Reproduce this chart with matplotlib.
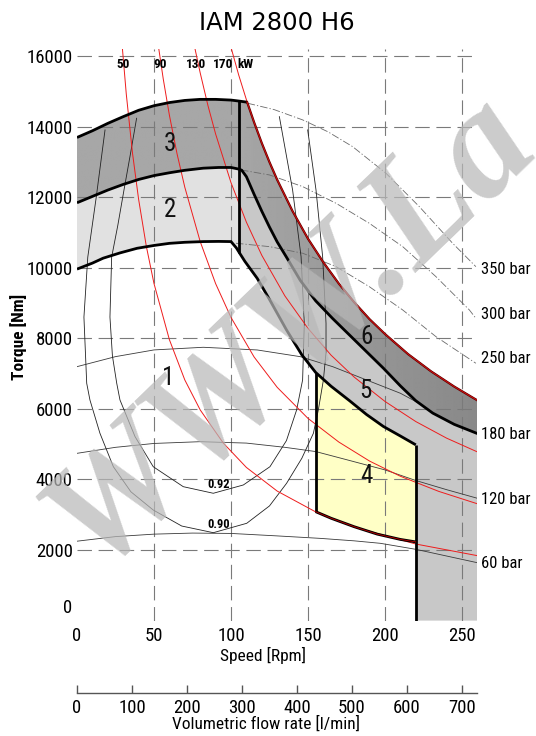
import numpy as np
import matplotlib
matplotlib.use("Agg")
import matplotlib.pyplot as plt
from matplotlib import font_manager as fm
from matplotlib.patches import Polygon

# ---------------- data ----------------
title = "IAM 2800 H6"
speed_ticks = [0, 50, 100, 150, 200, 250]
torque_ticks = [2000, 4000, 6000, 8000, 10000, 12000, 14000, 16000]
flow_ticks = [0, 100, 200, 300, 400, 500, 600, 700]
flow_per_rev = 2.8          # l/rev  (700 l/min at 250 rpm)

# constant power lines (kW)
power_labels = ["50", "90", "130", "170"]
power_label_rpm = [30, 54, 77, 95]
p50_rpm = [29, 32, 36, 40, 45, 50, 60, 70, 80, 95, 110, 130, 155, 180, 220, 260]
p50_T = [16460, 14920, 13260, 11940, 10610, 9550, 7960, 6820, 5970, 5030, 4340, 3670, 3080, 2650, 2170, 1840]
p90_rpm = [52, 56, 60, 65, 70, 80, 90, 100, 115, 130, 150, 170, 190, 210, 235, 260]
p90_T = [16530, 15350, 14320, 13220, 12280, 10740, 9550, 8590, 7470, 6610, 5730, 5060, 4520, 4090, 3660, 3310]
p130_rpm = [76, 80, 85, 90, 100, 110, 120, 135, 150, 165, 180, 200, 220, 240, 260]
p130_T = [16330, 15520, 14600, 13790, 12410, 11290, 10350, 9200, 8280, 7520, 6900, 6210, 5640, 5170, 4780]
p170_rpm = [99, 105, 110.5, 115, 120, 125, 130, 140, 150, 160, 170, 180, 190, 200, 215, 230, 245, 260]
p170_T = [16400, 15460, 14690, 14120, 13530, 12990, 12490, 11600, 10820, 10150, 9550, 9020, 8540, 8120, 7550, 7060, 6630, 6240]

# envelope: maximum torque (top of zone 3)
top_rpm = [0, 10, 20, 30, 40, 50, 60, 70, 80, 90, 100, 105.5, 110.5]
top_T = [13690, 13880, 14090, 14280, 14460, 14590, 14680, 14740, 14770, 14770, 14750, 14720, 14690]
# border 3/2 and 6/5
b2_rpm = [0, 10, 20, 30, 40, 50, 60, 70, 82, 92, 100, 105.5, 107, 110, 115, 120, 125, 130, 136, 145,
          155, 166, 177, 188, 199, 210, 220, 231, 245, 260]
b2_T = [11840, 12020, 12200, 12360, 12500, 12610, 12690, 12760, 12820, 12840, 12840, 12790, 12760, 12580,
        12080, 11600, 11150, 10730, 10300, 9640, 9060, 8560, 8090, 7620, 7150, 6650, 6230, 5880, 5560, 5300]
# border 2/1, 5/1 and top of zone 4
b1_rpm = [0, 10, 17, 28, 39, 50, 60, 70, 82, 92, 100, 103.5, 105.5, 109, 117, 125, 136, 146, 155,
          165, 177, 188, 199, 210, 220]
b1_T = [9960, 10130, 10270, 10420, 10550, 10630, 10690, 10720, 10740, 10745, 10740, 10560, 10420, 10180,
        9700, 9100, 8240, 7530, 7030, 6640, 6230, 5840, 5500, 5230, 4980]
# bottom of zone 4
z4_rpm = [155, 165, 180, 195, 210, 220]
z4_T = [3086, 2900, 2660, 2450, 2300, 2230]
n_corner = 105.5
n_z4_left = 155
n_max = 220

# pressure lines
bar_labels = ["350 bar", "300 bar", "250 bar", "180 bar", "120 bar", "60 bar"]
bar_label_T = [9960, 8660, 7430, 5260, 3440, 1620]
p60_rpm = [0, 25, 50, 75, 100, 130, 158, 180, 197, 220, 240, 260]
p60_T = [2250, 2380, 2450, 2480, 2470, 2400, 2330, 2260, 2190, 2020, 1830, 1640]
p120_rpm = [0, 25, 50, 80, 110, 135, 155, 175, 200, 220, 240, 260]
p120_T = [4740, 4910, 5020, 5070, 5030, 4910, 4790, 4560, 4270, 3970, 3710, 3466]
p180_rpm = [0, 25, 50, 82, 117, 145, 166, 188, 210, 222]
p180_T = [7196, 7480, 7670, 7745, 7669, 7479, 7196, 6819, 6442, 6160]
p250_rpm = [103.2, 125, 146.6, 168.2, 189.8, 211.5, 233.1, 259]
p250_T = [10693, 10597, 10409, 10030, 9463, 8802, 8046, 7292]
p300_rpm = [106.5, 125, 146.6, 168.2, 189.8, 211.5, 233.1, 254.8, 259]
p300_T = [12770, 12628, 12297, 11826, 11259, 10597, 9746, 8802, 8566]
p350_rpm = [110.8, 128, 146.6, 163, 179, 200.6, 222.3, 243.9, 259]
p350_T = [14660, 14480, 14187, 13850, 13430, 12677, 11730, 10693, 10030]

# efficiency contours
e92_rpm = [38.7, 34.6, 30.5, 26.5, 22.5, 21.4, 23, 25.8, 27.9, 37.7, 49.5, 69, 88.5, 108, 125.3,
           136, 142.6, 146.5, 147.6, 145.5, 140, 131.4]
e92_T = [14235, 13200, 12200, 11200, 10300, 8600, 7500, 6725, 6252, 5212, 4361, 3795, 3608, 3843, 4361,
         5100, 5968, 6819, 8425, 10313, 12203, 14281]
e90_rpm = [18.2, 12.5, 7, 4.5, 6.3, 8.4, 14.9, 23.6, 35, 49.5, 68, 88.5, 110.2, 125, 136.1, 146,
           153.5, 156.7, 160, 161.7, 161.7, 159.5, 155.2, 149.8]
e90_T = [13904, 12000, 10300, 8600, 6725, 6252, 5308, 4361, 3650, 3134, 2680, 2491, 2757, 3250, 3891, 4600,
         5308, 5968, 6819, 7600, 8425, 10313, 12203, 13904]
eff_labels = ["0.92", "0.90"]
eff_label_pos = [(91.8, 3843), (91.8, 2729)]

zone_labels = ["1", "2", "3", "4", "5", "6"]
zone_pos = [(59.3, 6867), (60.4, 11637), (60.4, 13507), (187.7, 4098), (187, 6516), (188.1, 8029)]

watermark = "WWW.La"

# ---------------- fonts ----------------
avail = {f.name for f in fm.fontManager.ttflist}
narrow_pref = ["Liberation Sans Narrow", "Roboto Condensed", "Archivo Narrow",
               "Barlow Semi Condensed", "Asap Condensed"]
chosen = next((n for n in narrow_pref if n in avail), None)
if chosen is not None:
    NARROW = [chosen, "DejaVu Sans"]
    k = 1.0
else:
    NARROW = ["DejaVu Sans"]
    k = 0.75
SERIF = ["Liberation Serif", "DejaVu Serif"]

W, H = 536, 736
fig = plt.figure(figsize=(W / 100, H / 100), dpi=100)
fig.patch.set_facecolor("white")

def fx(px):
    return px / W

def fy(py):
    return 1 - py / H

X0, X1 = 77, 477.4
Y0, Y1 = 620.6, 48.9
ax = fig.add_axes([fx(X0), fy(Y0), (X1 - X0) / W, (Y0 - Y1) / H])
ax.set_xlim(0, 260)
ax.set_ylim(0, 16200)
for s in ax.spines.values():
    s.set_visible(False)
ax.set_facecolor("none")

def seg(rpm, T, lo, hi):
    r = np.asarray(rpm, float)
    t = np.asarray(T, float)
    m = (r >= lo - 1e-9) & (r <= hi + 1e-9)
    return r[m], t[m]

# ---------- fills ----------
tr, tt = np.asarray(top_rpm, float), np.asarray(top_T, float)
orr, ot = seg(p170_rpm, p170_T, 110.5, 260)
up_r = np.concatenate([tr, orr[1:]])
up_t = np.concatenate([tt, ot[1:]])
b2r, b2t = np.asarray(b2_rpm, float), np.asarray(b2_T, float)
dark_poly = Polygon(np.column_stack([np.concatenate([up_r, b2r[::-1]]),
                                     np.concatenate([up_t, b2t[::-1]])]),
                    closed=True, facecolor="none", edgecolor="none", zorder=1)
ax.add_patch(dark_poly)
# shaded dark zones 3 and 6 (slightly darker towards high speed)
gx = np.linspace(0, 260, 261)
shade = np.where(gx < 100, 0.655, 0.655 - (gx - 100) / 160 * 0.12)
img = np.tile(shade, (2, 1))
im = ax.imshow(img, extent=[0, 260, 0, 16200], origin="lower", aspect="auto",
               cmap="gray", vmin=0, vmax=1, zorder=1, interpolation="bilinear")
im.set_clip_path(dark_poly)

# zone 2
r2a, t2a = seg(b2_rpm, b2_T, 0, n_corner)
r1a, t1a = seg(b1_rpm, b1_T, 0, n_corner)
ax.fill(np.concatenate([r2a, r1a[::-1]]), np.concatenate([t2a, t1a[::-1]]),
        color="#e1e1e1", lw=0, zorder=1)

# zone 5
r2b, t2b = seg(b2_rpm, b2_T, n_corner, 260)
r1b, t1b = seg(b1_rpm, b1_T, n_corner, n_max)
ax.fill(np.concatenate([r2b, [260, n_max], r1b[::-1]]),
        np.concatenate([t2b, [0, 0], t1b[::-1]]), color="#c8c8c8", lw=0, zorder=1)

# zone 4
r1c, t1c = seg(b1_rpm, b1_T, n_z4_left, n_max)
ax.fill(np.concatenate([r1c, np.asarray(z4_rpm)[::-1]]),
        np.concatenate([t1c, np.asarray(z4_T)[::-1]]), color="#ffffc6", lw=0, zorder=1)

# ---------- grid ----------
gstyle = dict(color="#7a7a7a", lw=0.8, linestyle=(0, (13, 6)), zorder=1.5)
for x in speed_ticks[1:]:
    ax.plot([x, x], [0, 16200], **gstyle)
for y in torque_ticks:
    ax.plot([0, 260], [y, y], **gstyle)

# ---------- thin lines ----------
thin = dict(color="#3a3a3a", lw=0.6, zorder=2)
for r, t in [(p60_rpm, p60_T), (p120_rpm, p120_T), (p180_rpm, p180_T)]:
    ax.plot(r, t, **thin)
dd = dict(color="#6a6a6a", lw=0.6, linestyle=(0, (9, 2.5, 1.5, 2.5)), zorder=2)
for r, t in [(p250_rpm, p250_T), (p300_rpm, p300_T), (p350_rpm, p350_T)]:
    ax.plot(r, t, **dd)
for r, t in [(e92_rpm, e92_T), (e90_rpm, e90_T)]:
    ax.plot(r, t, color="#222222", lw=0.6, zorder=2)

# ---------- red constant power lines ----------
for r, t in [(p50_rpm, p50_T), (p90_rpm, p90_T), (p130_rpm, p130_T), (p170_rpm, p170_T)]:
    ax.plot(r, t, color="#ee1c1c", lw=0.7, zorder=2.5)

# ---------- thick borders ----------
thick = dict(color="black", lw=2.0, zorder=3, solid_joinstyle="miter", solid_capstyle="butt")
ax.plot(tr, tt, **thick)
ax.plot(orr, ot, color="#5a0000", lw=1.6, zorder=3)
ax.plot(orr, ot, color="#d01010", lw=0.7, zorder=3.1)
ax.plot(b2r, b2t, **thick)
ax.plot(b1_rpm, b1_T, **thick)
ax.plot(z4_rpm, z4_T, **thick)
ax.plot(z4_rpm, z4_T, color="#c00000", lw=0.6, zorder=3.1)
b1_at_corner = np.interp(n_corner, b1_rpm, b1_T)
top_at_corner = np.interp(n_corner, top_rpm, top_T)
ax.plot([n_corner, n_corner], [b1_at_corner, top_at_corner], **thick)
ax.plot([n_z4_left, n_z4_left], [z4_T[0], np.interp(n_z4_left, b1_rpm, b1_T)], **thick)
ax.plot([n_max, n_max], [0, b1_T[-1]], **thick)

# ---------- annotations ----------
for lab, (x, y) in zip(eff_labels, eff_label_pos):
    ax.text(x, y, lab, ha="center", va="center", fontsize=9 * k, family=NARROW,
            fontweight="bold", zorder=4)
for lab, (x, y) in zip(zone_labels, zone_pos):
    ax.text(x, y, lab, ha="center", va="center", fontsize=18 * k, family=NARROW, zorder=11,
            color="#111111")
for lab, x in zip(power_labels, power_label_rpm):
    ax.text(x, 15760, lab, ha="center", va="center", fontsize=9.5 * k, family=NARROW,
            fontweight="bold", zorder=4)
ax.text(109.6, 15760, "kW", ha="center", va="center", fontsize=9.5 * k, family=NARROW,
        fontweight="bold", zorder=4)
for lab, y in zip(bar_labels, bar_label_T):
    ax.text(262.5, y, lab, ha="left", va="center", fontsize=12 * k,
            family=NARROW, clip_on=False)

# ---------- axes ticks ----------
ax.set_xticks(speed_ticks)
ax.set_xticklabels([str(v) for v in speed_ticks], family=NARROW, fontsize=13.5 * k)
ax.set_yticks(torque_ticks)
ax.set_yticklabels([str(v) for v in torque_ticks], family=NARROW, fontsize=13.5 * k)
ax.tick_params(axis="x", length=0, pad=4.5)
ax.tick_params(axis="y", length=0, pad=3)
fig.text(fx(72), fy(608), "0", ha="right", va="center", family=NARROW, fontsize=13.5 * k)

fig.text(fx(277), fy(23), title, ha="center", va="center", fontsize=17.5, family=["DejaVu Sans"])
fig.text(fx(19), fy(337), "Torque [Nm]", rotation=90, ha="center", va="center",
         family=NARROW, fontsize=12.5 * k, fontweight="bold")
fig.text(fx(263), fy(655), "Speed [Rpm]", ha="center", va="center", family=NARROW, fontsize=12.5 * k)

# ---------- secondary flow-rate axis ----------
ax2 = fig.add_axes([fx(X0), fy(693), (X1 - X0) / W, 0.0001])
ax2.set_xlim(0, 260 * flow_per_rev)
for side in ["top", "left", "right"]:
    ax2.spines[side].set_visible(False)
ax2.spines["bottom"].set_color("#555555")
ax2.spines["bottom"].set_linewidth(1.0)
ax2.set_yticks([])
ax2.set_xticks(flow_ticks)
ax2.set_xticklabels([str(v) for v in flow_ticks], family=NARROW, fontsize=13.5 * k)
ax2.tick_params(axis="x", direction="in", length=6, width=1, color="#555555", pad=4)
ax2.set_facecolor("none")
fig.text(fx(266), fy(724), "Volumetric flow rate [l/min]", ha="center", va="center",
         family=NARROW, fontsize=12.5 * k)

# ---------- watermark ----------
fig.text(fx(96), fy(572), watermark, rotation=44, rotation_mode="anchor", ha="left",
         va="baseline", fontsize=112, family=SERIF, style="italic", fontweight="bold",
         color="#b8b8b8", alpha=0.72, zorder=10)

fig.savefig("out.png", dpi=100, facecolor="white")
